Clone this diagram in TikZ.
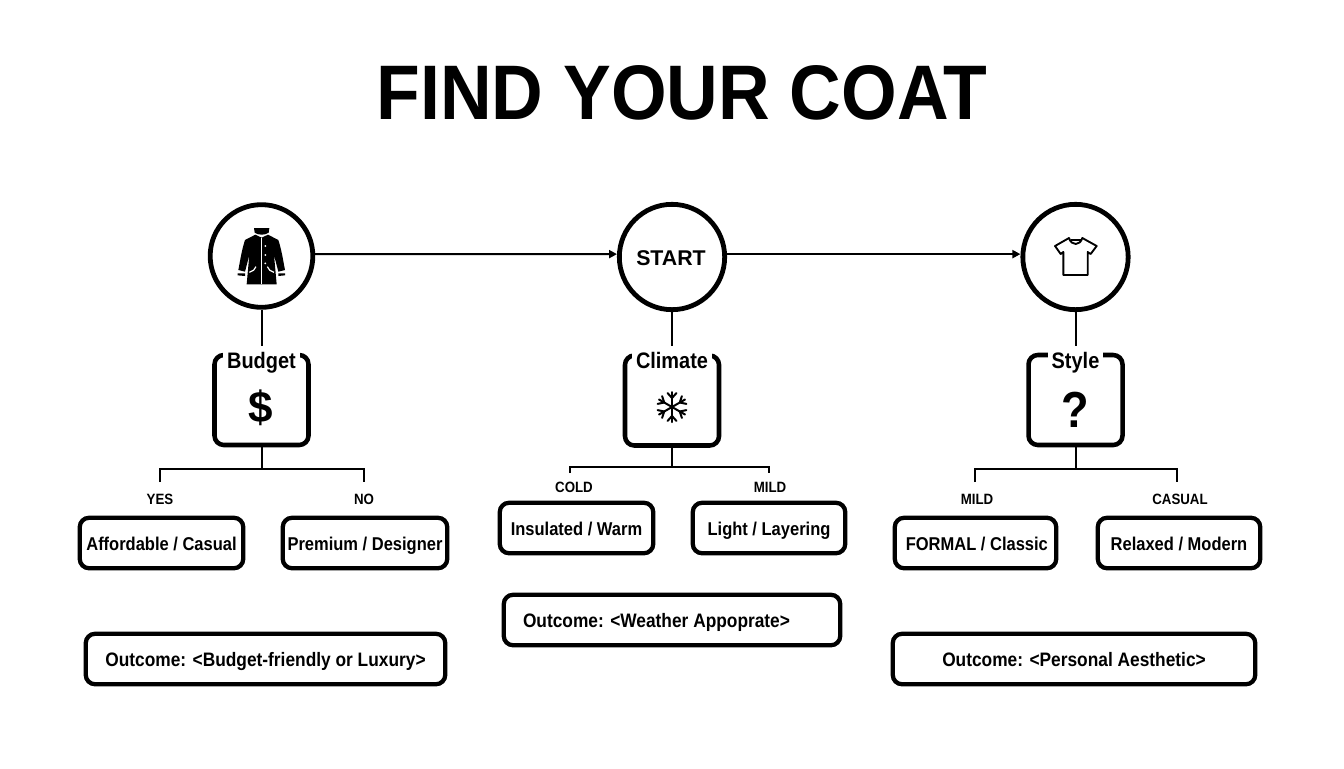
\documentclass[tikz,border=0pt]{standalone}
\usepackage{fontspec}
\setmainfont{Liberation Sans}
\newfontfamily\labf[FakeStretch=0.89]{Liberation Sans}
\newfontfamily\titf[FakeStretch=0.925]{Liberation Sans}
\usetikzlibrary{arrows.meta}
\tikzset{
  circ/.style={circle,draw=black,line width=3.6pt,fill=white,inner sep=0pt,minimum size=77pt},
  bigcirc/.style={circ,minimum size=79pt},
  qbox/.style={draw=black,line width=3.4pt,rounded corners=7pt,fill=white,minimum width=70.5pt,minimum height=67.5pt,inner sep=0pt},
  optbox/.style={draw=black,line width=3.2pt,rounded corners=7pt,fill=white,inner sep=0pt,text height=10.5pt,text depth=0pt,font=\labf\bfseries\fontsize{13.9}{16}\selectfont},
  outbox/.style={optbox,font=\labf\bfseries\fontsize{14.6}{16}\selectfont},
  qlab/.style={fill=white,inner xsep=3pt,inner ysep=5pt,text height=12pt,text depth=3.5pt,font=\labf\bfseries\fontsize{16.8}{19}\selectfont},
  branch/.style={inner xsep=1pt,inner ysep=2pt,font=\labf\bfseries\fontsize{11.2}{13}\selectfont},
  conn/.style={draw=black,line width=1.5pt},
  arrowconn/.style={conn,-{Triangle[length=6pt,width=6pt]}},
  icon/.style={inner sep=0pt,font=\bfseries},
}
\newcommand{\boxat}[7]{% style, name, x1, y1, x2, y2, text
  \node[#1,minimum width={(#5-#3-3.5)*0.75pt},minimum height={(#6-#4-3.5)*0.75pt}] (#2) at ({(#3+#5)/2},{(#4+#6)/2}) {#7};}
\begin{document}
\begin{tikzpicture}[x=0.75pt,y=-0.75pt]
\useasboundingbox (0,0) rectangle (1344,768);
\fill[white] (0,0) rectangle (1344,768);
\node[inner sep=0pt,font=\titf\bfseries\fontsize{58}{60}\selectfont] (title) at (682,92.5) {FIND YOUR COAT};

% top circles
\node[circ] (coat) at (261.5,256) {};
\node[bigcirc] (start) at (672,257) {};
\node[inner sep=0pt,font=\bfseries\fontsize{16}{18}\selectfont] (starttext) at (671,258) {START};
\node[bigcirc] (shirt) at (1075.5,257) {};
\draw[arrowconn] (coat.2) -- (start.177);
\draw[arrowconn] (start.177 -| start.east) -- (start.177 -| shirt.west);

% question boxes
\node[qbox] (qbudget) at (261.5,400) {};
\node[qbox] (qclimate) at (672,400.5) {};
\node[qbox] (qstyle) at (1075.5,400) {};
\node[qlab] (lbudget) at (261.5,363.3) {Budget};
\node[qlab] (lclimate) at (672,363.3) {Climate};
\node[qlab] (lstyle) at (1075.5,363.3) {Style};
\draw[conn] (coat) -- (lbudget);
\draw[conn] (start) -- (lclimate);
\draw[conn] (shirt) -- (lstyle);
\node[icon,font=\bfseries\fontsize{33}{36}\selectfont] (dollar) at (261,408) {\$};
\node[icon,font=\labf\bfseries\fontsize{38}{40}\selectfont] (qmark) at (1075,410) {?};

% snowflake
\begin{scope}[shift={(672,407)},line width=1.5pt,line cap=round]
\foreach \a in {30,90,150,210,270,330}{
  \draw[rotate=\a] (0,0) -- (15,0);
  \draw[rotate=\a] (9,0) -- (14,4.5);
  \draw[rotate=\a] (9,0) -- (14,-4.5);
}
\end{scope}

% coat icon
\begin{scope}[shift={(190,190)},x=0.25pt,y=-0.25pt]
\fill[black] (192,114) -- (238,114) -- (236,128) .. controls (226,136) and (204,136) .. (194,128) -- cycle;
\fill[black] (196,134) -- (215,143) -- (234,134) -- (265,150) .. controls (275,180) and (280,215) .. (285,240) -- (265,245) -- (252,195) -- (260,283) -- (170,283) -- (178,195) -- (165,245) -- (145,240) .. controls (150,215) and (155,180) .. (165,150) -- cycle;
\fill[black] (143,250) -- (165,250) -- (165,258) -- (143,256) -- cycle;
\fill[black] (265,250) -- (285,250) -- (285,256) -- (265,258) -- cycle;
\draw[white,line width=0.9pt] (215,143) -- (215,283);
\draw[white,line width=0.9pt] (178,247) .. controls (188,245) and (195,238) .. (198,230);
\draw[white,line width=0.9pt] (252,247) .. controls (242,245) and (235,238) .. (232,230);
\foreach \yy in {168,195,220}{\fill[white] (226,\yy) circle (3);}
\end{scope}

% shirt icon
\begin{scope}[shift={(1000,190)},x=0.25pt,y=-0.25pt]
\draw[black,line width=1.4pt,line join=round,fill=white] (207,144) -- (165,168) -- (182,192) -- (190,186) -- (190,255) -- (263,255) -- (263,186) -- (272,192) -- (290,168) -- (247,144) .. controls (240,168) and (214,168) .. (207,144) -- cycle;
\draw[black,line width=1.2pt] (212,150) -- (242,150);
\end{scope}

% branch labels
\node[branch] (yes) at (160,499) {YES};
\node[branch] (no) at (364,499) {NO};
\node[branch] (cold) at (574,487) {COLD};
\node[branch] (mild) at (770,487) {MILD};
\node[branch] (mild2) at (977,499) {MILD};
\node[branch] (casual) at (1180,499) {CASUAL};

% junctions
\coordinate (jb) at (261.5,469);
\coordinate (jc) at (672,467);
\coordinate (js) at (1075.5,469);
\draw[conn] (qbudget.south) -- (jb);
\draw[conn] (qclimate.south) -- (jc);
\draw[conn] (qstyle.south) -- (js);
\coordinate (tyes) at (160,482);
\coordinate (tno) at (364,482);
\coordinate (tcold) at (570,473);
\coordinate (tmild) at (769,473);
\coordinate (tmild2) at (975,482);
\coordinate (tcasual) at (1177,482);
\draw[conn] (tyes) |- (jb) -| (tno);
\draw[conn] (tcold) |- (jc) -| (tmild);
\draw[conn] (tmild2) |- (js) -| (tcasual);

% option boxes
\boxat{optbox}{afford}{78}{516}{245}{570}{Affordable / Casual}
\boxat{optbox}{premium}{281}{516}{449}{570}{Premium / Designer}
\boxat{optbox}{insul}{498}{501}{655}{555}{Insulated / Warm}
\boxat{optbox}{light}{691}{501}{847}{555}{Light / Layering}
\boxat{optbox}{formal}{893}{516}{1058}{570}{\hspace*{2pt}FORMAL / Classic}
\boxat{optbox}{relaxed}{1096}{516}{1262}{570}{Relaxed / Modern}

% outcomes
\boxat{outbox}{obudget}{84}{632}{447}{686}{Outcome: <Budget-friendly or Luxury>}
\boxat{outbox}{oclimate}{502}{593}{842}{647}{\hspace*{-23.25pt}Outcome: <Weather Appoprate>}
\boxat{outbox}{ostyle}{891}{632}{1257}{686}{Outcome: <Personal Aesthetic>}
\end{tikzpicture}
\end{document}
